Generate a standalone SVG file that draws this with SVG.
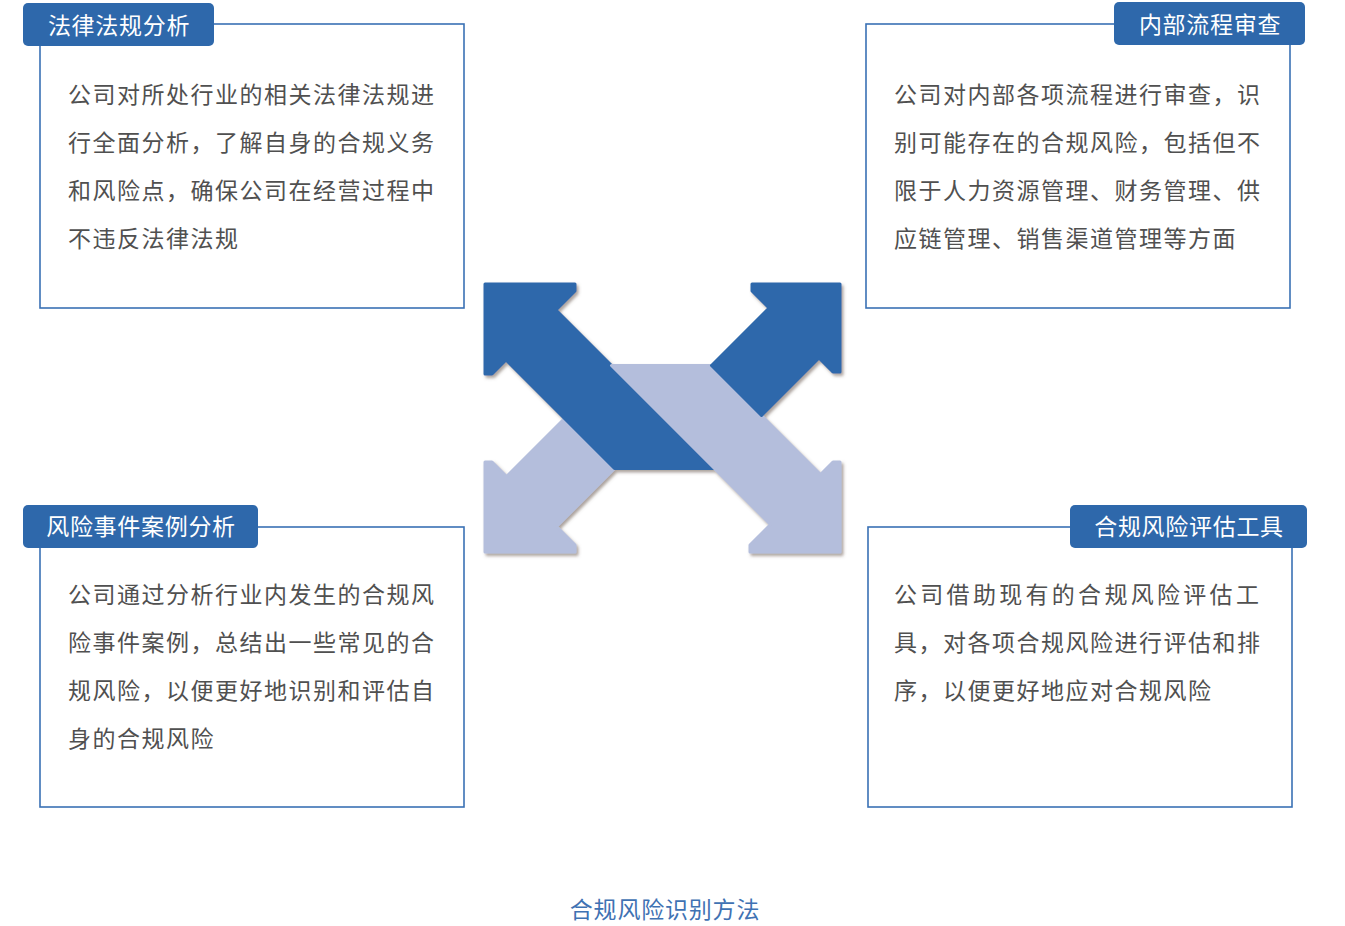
<svg xmlns="http://www.w3.org/2000/svg" width="1345" height="926" viewBox="0 0 1345 926">
<defs>
<style>
.box{fill:#fff;stroke:#3a71b5;stroke-width:1.6}
.tab{fill:#2e68ab}
.tabt{font-family:"Noto Sans CJK SC","Noto Sans",sans-serif;font-size:23px;fill:#fff;letter-spacing:0.7px;text-anchor:middle}
.body{font-family:"Noto Sans CJK SC","Noto Sans",sans-serif;font-size:23px;fill:#505050;letter-spacing:1.5px}
.title{font-family:"Noto Sans CJK SC","Noto Sans",sans-serif;font-size:23px;fill:#3f72b3;letter-spacing:0.8px;text-anchor:middle}
.dk{fill:#2e68ab;stroke:#2e68ab;stroke-width:3;stroke-linejoin:round}
.lt{fill:#b4bedc;stroke:#b4bedc;stroke-width:3;stroke-linejoin:round}
</style>
<filter id="sh" x="-10%" y="-10%" width="120%" height="120%">
<feDropShadow dx="2" dy="2.5" stdDeviation="1.5" flood-color="#6b5a50" flood-opacity="0.55"/>
</filter>
</defs>
<rect width="1345" height="926" fill="#fff"/>

<g id="center-arrows" filter="url(#sh)">
<polygon class="lt" points="564.5,418.5 614.5,468.5 556.5,526.5 575,545 575,552 485,552 485,462 492,462 506.5,476.5"/>
<polygon class="dk" points="485,284 575,284 575,291 556,310 714.5,468.5 614.5,468.5 506,360 492,374 485,374"/>
<polygon class="lt" points="611.5,365.5 711.5,365.5 820.5,474.5 833,462 840,462 840,552 750,552 750,545 770.5,524.5"/>
<polygon class="dk" points="711.5,365.5 769,308 752,291 752,284 840,284 840,372 833,372 819,358 761.5,415.5"/>
</g>

<g id="node-legal">
<rect class="box" x="40" y="24" width="424" height="284"/>
<rect class="tab" x="23" y="3" width="191" height="43" rx="5"/>
<text class="tabt" x="119" y="33.5">法律法规分析</text>
<text class="body" x="68" y="103">公司对所处行业的相关法律法规进</text>
<text class="body" x="68" y="151">行全面分析，了解自身的合规义务</text>
<text class="body" x="68" y="199">和风险点，确保公司在经营过程中</text>
<text class="body" x="68" y="247">不违反法律法规</text>
</g>

<g id="node-process">
<rect class="box" x="866" y="24" width="424" height="284"/>
<rect class="tab" x="1114" y="2" width="191" height="43" rx="5"/>
<text class="tabt" x="1210" y="33">内部流程审查</text>
<text class="body" x="894" y="103">公司对内部各项流程进行审查，识</text>
<text class="body" x="894" y="151">别可能存在的合规风险，包括但不</text>
<text class="body" x="894" y="199">限于人力资源管理、财务管理、供</text>
<text class="body" x="894" y="247">应链管理、销售渠道管理等方面</text>
</g>

<g id="node-cases">
<rect class="box" x="40" y="527" width="424" height="280"/>
<rect class="tab" x="23" y="505" width="235" height="43" rx="5"/>
<text class="tabt" x="141" y="535">风险事件案例分析</text>
<text class="body" x="68" y="603">公司通过分析行业内发生的合规风</text>
<text class="body" x="68" y="651">险事件案例，总结出一些常见的合</text>
<text class="body" x="68" y="699">规风险，以便更好地识别和评估自</text>
<text class="body" x="68" y="747">身的合规风险</text>
</g>

<g id="node-tools">
<rect class="box" x="868" y="527" width="424" height="280"/>
<rect class="tab" x="1070" y="505" width="237" height="43" rx="5"/>
<text class="tabt" x="1189" y="535">合规风险评估工具</text>
<text class="body" x="894" y="603" style="letter-spacing:3.3px">公司借助现有的合规风险评估工</text>
<text class="body" x="894" y="651">具，对各项合规风险进行评估和排</text>
<text class="body" x="894" y="699">序，以便更好地应对合规风险</text>
</g>

<g id="connectors"></g>

<text class="title" x="665" y="918">合规风险识别方法</text>
</svg>
